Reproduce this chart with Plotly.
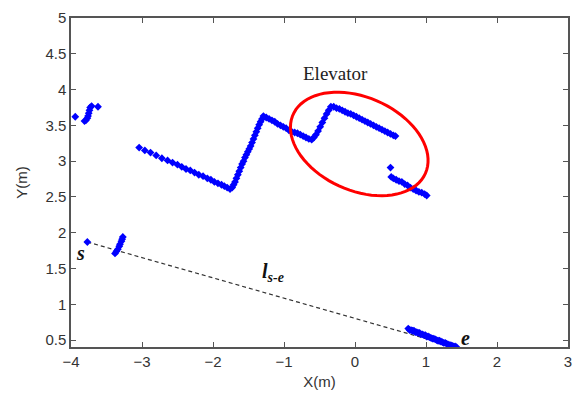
import numpy as np
import plotly.graph_objects as go

# ---- data ----
seg_a_x = [-3.94, -3.81, -3.79, -3.77, -3.76, -3.75, -3.74, -3.73, -3.71, -3.62]
seg_a_y = [3.62, 3.56, 3.57, 3.60, 3.63, 3.67, 3.71, 3.75, 3.77, 3.76]

seg_b_x = [-3.04, -2.96, -2.88, -2.80, -2.72, -2.64, -2.57, -2.50, -2.44, -2.38, -2.32,
           -2.26, -2.20, -2.14, -2.08, -2.03, -1.98, -1.93, -1.88, -1.84, -1.80, -1.76]
seg_b_y = [3.19, 3.15, 3.12, 3.08, 3.04, 3.01, 2.98, 2.95, 2.92, 2.89, 2.87,
           2.84, 2.81, 2.79, 2.76, 2.74, 2.71, 2.69, 2.67, 2.65, 2.63, 2.61]

seg_c_x = [-1.73, -1.71, -1.69, -1.67, -1.65, -1.63, -1.61, -1.59, -1.57, -1.55, -1.53, -1.51,
           -1.49, -1.47, -1.45, -1.43, -1.41, -1.39, -1.37, -1.35, -1.33, -1.31, -1.29]
seg_c_y = [2.63, 2.67, 2.71, 2.76, 2.81, 2.86, 2.91, 2.96, 3.00, 3.05, 3.09, 3.13,
           3.17, 3.21, 3.26, 3.31, 3.36, 3.41, 3.46, 3.51, 3.55, 3.59, 3.63]

seg_d_x = [-1.25, -1.21, -1.17, -1.13, -1.09, -1.05, -1.01, -0.97, -0.93, -0.89, -0.85,
           -0.81, -0.77, -0.73, -0.69, -0.65, -0.61,
           -0.58, -0.55, -0.52, -0.49, -0.46, -0.43, -0.40, -0.37, -0.34]
seg_d_y = [3.61, 3.59, 3.57, 3.55, 3.52, 3.50, 3.48, 3.46, 3.43, 3.41, 3.40,
           3.39, 3.37, 3.35, 3.33, 3.31, 3.30,
           3.33, 3.37, 3.42, 3.48, 3.54, 3.60, 3.66, 3.71, 3.76]

seg_f_x = [-0.30, -0.26, -0.22, -0.18, -0.14, -0.10, -0.06, -0.02, 0.02, 0.06, 0.10, 0.14,
           0.18, 0.22, 0.26, 0.30, 0.34, 0.38, 0.42, 0.46, 0.50, 0.54, 0.57]
seg_f_y = [3.76, 3.74, 3.73, 3.71, 3.69, 3.67, 3.66, 3.64, 3.62, 3.60, 3.58, 3.56,
           3.54, 3.52, 3.50, 3.48, 3.46, 3.44, 3.42, 3.40, 3.38, 3.36, 3.35]

seg_g_x = [0.50, 0.51, 0.54, 0.58, 0.62, 0.66, 0.70, 0.74, 0.78, 0.82, 0.86, 0.90, 0.94, 0.98, 1.01]
seg_g_y = [2.91, 2.78, 2.76, 2.74, 2.72, 2.71, 2.68, 2.66, 2.63, 2.61, 2.59, 2.57, 2.56, 2.54, 2.52]

seg_h_x = [-3.77, -3.38, -3.36, -3.34, -3.32, -3.31, -3.29, -3.28, -3.27]
seg_h_y = [1.87, 1.71, 1.74, 1.77, 1.81, 1.84, 1.88, 1.91, 1.94]

seg_i_x = [0.75, 0.77, 0.79, 0.81, 0.83, 0.85, 0.87, 0.89, 0.91, 0.93, 0.95, 0.97, 0.99, 1.01,
           1.03, 1.05, 1.07, 1.09, 1.11, 1.13, 1.15, 1.17, 1.19, 1.21, 1.23, 1.25, 1.27, 1.29,
           1.31, 1.33, 1.35, 1.37, 1.39, 1.41, 1.43]
seg_i_y = [0.66, 0.64, 0.64, 0.63, 0.63, 0.61, 0.61, 0.60, 0.60, 0.58, 0.58, 0.57, 0.57, 0.55,
           0.55, 0.54, 0.53, 0.52, 0.52, 0.51, 0.50, 0.49, 0.49, 0.48, 0.47, 0.46, 0.46, 0.45,
           0.44, 0.43, 0.43, 0.42, 0.41, 0.41, 0.40]

line_x = [-3.77, 1.35]
line_y = [1.87, 0.42]

x_ticks = [-4, -3, -2, -1, 0, 1, 2, 3]
y_ticks = [0.5, 1, 1.5, 2, 2.5, 3, 3.5, 4, 4.5, 5]
y_tick_text = ["0.5", "1", "1.5", "2", "2.5", "3", "3.5", "4", "4.5", "5"]

fig = go.Figure()

fig.add_trace(go.Scatter(x=line_x, y=line_y, mode="lines",
                         line=dict(color="#333333", width=1.2, dash="4px,3px"),
                         hoverinfo="skip"))

all_x = seg_a_x + seg_b_x + seg_c_x + seg_d_x + seg_f_x + seg_g_x + seg_h_x + seg_i_x
all_y = seg_a_y + seg_b_y + seg_c_y + seg_d_y + seg_f_y + seg_g_y + seg_h_y + seg_i_y
fig.add_trace(go.Scatter(x=all_x, y=all_y, mode="markers",
                         marker=dict(symbol="diamond", size=6, color="#0000FF",
                                     line=dict(width=0))))

# rotated ellipse (pixel-based parameters, converted to data units)
sx, sy = 71.57, 72.2
cx, cy = 0.06, 3.24
a_px, b_px, th = 73.0, 47.0, np.deg2rad(24)
t = np.linspace(0, 2 * np.pi, 80)
ex = a_px * np.cos(t) * np.cos(th) - b_px * np.sin(t) * np.sin(th)
ey = a_px * np.cos(t) * np.sin(th) + b_px * np.sin(t) * np.cos(th)
px = cx + ex / sx
py = cy - ey / sy
path = "M " + " L ".join(f"{u:.4f},{v:.4f}" for u, v in zip(px, py)) + " Z"
fig.add_shape(type="path", path=path, xref="x", yref="y",
              line=dict(color="#FF0000", width=3))

serif = "Liberation Serif, Times New Roman, serif"
fig.add_annotation(x=-0.28, y=4.23, text="Elevator", showarrow=False,
                   font=dict(family=serif, size=19, color="#222222"))
fig.add_annotation(x=-3.86, y=1.72, text="<b><i>s</i></b>", showarrow=False,
                   font=dict(family=serif, size=20, color="#111111"))
fig.add_annotation(x=1.56, y=0.53, text="<b><i>e</i></b>", showarrow=False,
                   font=dict(family=serif, size=20, color="#111111"))
fig.add_annotation(x=-1.15, y=1.44, text="<b><i>l</i></b><sub><b><i>s-e</i></b></sub>",
                   showarrow=False, font=dict(family=serif, size=20, color="#111111"))

axis_common = dict(showgrid=False, zeroline=False, showline=True, linecolor="#555555",
                   linewidth=1.5, mirror="ticks", ticks="inside", ticklen=5,
                   tickcolor="#555555", tickwidth=1,
                   tickfont=dict(family="Liberation Sans, Arial", size=15, color="#333333"),
                   title_font=dict(family="Liberation Sans, Arial", size=15, color="#333333"))

fig.update_xaxes(range=[-4, 3], tickvals=x_ticks, title_text="X(m)", title_standoff=8,
                 **axis_common)
fig.update_yaxes(range=[0.403, 5], tickvals=y_ticks, ticktext=y_tick_text,
                 title_text="Y(m)", title_standoff=14, **axis_common)

fig.update_layout(width=581, height=398, showlegend=False,
                  margin=dict(l=71, r=9, t=15, b=51),
                  plot_bgcolor="white", paper_bgcolor="white")

fig.write_html("out.html")
